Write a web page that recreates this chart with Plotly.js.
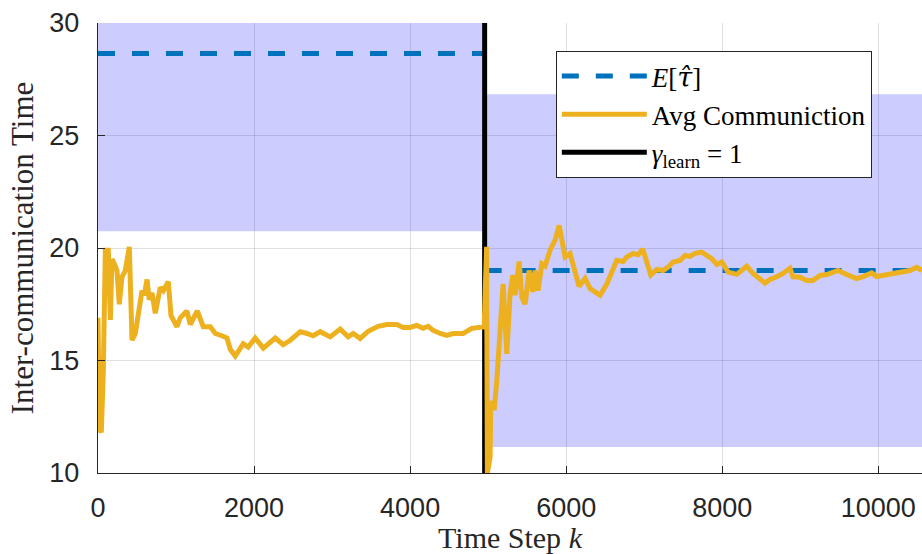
<!DOCTYPE html>
<html>
<head>
<meta charset="utf-8">
<script src="https://cdn.plot.ly/plotly-3.0.1.min.js"></script>
<style>
  html, body { margin: 0; padding: 0; background: #ffffff; }
  #chart { width: 922px; height: 554px; }
</style>
</head>
<body>
<div id="chart"></div>
<script>
// Running average of the inter-communication time over the time steps k
const stepK = [
  0, 17, 42, 68, 94, 132, 158, 179, 209, 243, 273, 307, 350, 401, 436, 478,
  564, 593, 628, 657, 692, 734, 798, 837, 901, 935, 1012, 1054, 1140, 1182,
  1272, 1349, 1439, 1503, 1588, 1653, 1695, 1759, 1861, 1925, 2015, 2118,
  2271, 2374, 2464, 2592, 2677, 2758, 2848, 2976, 3104, 3206, 3271, 3360,
  3463, 3591, 3702, 3830, 3911, 4001, 4086, 4167, 4231, 4295, 4385, 4471,
  4551, 4680, 4791, 4919, 4949,
  4980, 4990, 5025, 5034, 5077, 5111, 5192, 5239, 5282, 5316, 5346, 5397,
  5432, 5474, 5525, 5572, 5602, 5640, 5688, 5730, 5794, 5858, 5910, 5957,
  5986, 6050, 6114, 6165, 6242, 6306, 6370, 6434, 6520, 6648, 6729, 6776,
  6857, 6921, 6981, 7033, 7084, 7161, 7242, 7306, 7370, 7460, 7524, 7588,
  7652, 7737, 7801, 7865, 7930, 7994, 8075, 8186, 8314, 8395, 8548, 8612,
  8698, 8779, 8868, 8907, 8997, 9082, 9163, 9253, 9339, 9484, 9595, 9723,
  9804, 9915, 9979, 10060, 10188, 10316, 10406, 10492, 10560
];
const avgComm = [
  16.9, 12.0, 11.8, 14.5, 19.9, 19.9, 16.8, 19.5, 19.3, 19.0, 17.5, 18.7, 19.0,
  20.05, 15.9, 16.2, 18.1, 17.9, 18.6, 17.7, 18.0, 17.1, 18.25, 18.1, 18.5,
  17.0, 16.5, 16.9, 17.2, 16.6, 17.2, 16.5, 16.5, 16.2, 16.1, 16.0, 15.5,
  15.2, 15.75, 15.6, 16.0, 15.55, 16.0, 15.7, 15.9, 16.28, 16.2, 16.1, 16.28,
  16.05, 16.4, 16.05, 16.2, 15.98, 16.3, 16.52, 16.6, 16.6, 16.47, 16.47,
  16.56, 16.43, 16.52, 16.34, 16.2, 16.12, 16.2, 16.2, 16.43, 16.52, 16.5,
  20.05, 10.0, 10.7, 13.2, 12.8, 14.1, 18.4, 15.3, 18.0, 18.8, 17.9, 19.4,
  17.8, 17.5, 19.0, 18.05, 19.0, 18.1, 19.3, 19.2, 19.9, 20.35, 21.0, 20.2,
  19.6, 19.75, 19.0, 18.3, 18.65, 18.2, 18.05, 17.9, 18.4, 19.45, 19.4, 19.6,
  19.75, 19.7, 19.95, 19.4, 18.8, 19.05, 19.0, 19.15, 19.38, 19.45, 19.67,
  19.63, 19.76, 19.82, 19.67, 19.53, 19.27, 19.38, 18.93, 18.83, 19.19, 18.87,
  18.44, 18.6, 18.72, 18.87, 19.1, 18.72, 18.7, 18.56, 18.56, 18.78, 18.82,
  19.0, 18.82, 18.64, 18.73, 18.89, 18.73, 18.78, 18.87, 18.93, 19.0, 19.14,
  19.0
];

// Two learning phases, separated at the step where gamma_learn = 1
const phaseStart = [0, 4955];
const phaseEnd = [4955, 10600];
const tauMean = [28.65, 19.0];
const tauLow = [20.74, 11.16];
const tauHigh = [36.56, 26.83];
const learnStep = 4955;
const yLimits = [10, 30];

const xTicks = [0, 2000, 4000, 6000, 8000, 10000];
const yTicks = [10, 15, 20, 25, 30];

const BLUE = '#0072BD';
const ORANGE = '#EDB120';
const INK = '#262626';
const SERIF = 'Liberation Serif, Times New Roman, serif';

const traces = [];

// shaded confidence bands, one per phase
phaseStart.forEach((x0, i) => {
  const x1 = phaseEnd[i];
  traces.push({
    type: 'scatter', mode: 'lines',
    x: [x0, x1, x1, x0, x0],
    y: [tauLow[i], tauLow[i], tauHigh[i], tauHigh[i], tauLow[i]],
    fill: 'toself', fillcolor: 'rgba(0,0,255,0.2)',
    line: { width: 0 }, showlegend: false, hoverinfo: 'skip'
  });
});

// expected inter-communication time, piecewise over the phases
const meanX = [], meanY = [];
phaseStart.forEach((x0, i) => {
  if (i > 0) { meanX.push(null); meanY.push(null); }
  meanX.push(x0, phaseEnd[i]);
  meanY.push(tauMean[i], tauMean[i]);
});
traces.push({
  type: 'scatter', mode: 'lines', x: meanX, y: meanY,
  name: '<i>E</i>[<span style="font-family:DejaVu Serif">' +
        '<i>τ&#770;</i></span>]',
  legendrank: 1,
  line: { color: BLUE, width: 5, dash: '17px,17px' }
});

// switch marker
traces.push({
  type: 'scatter', mode: 'lines',
  x: [learnStep, learnStep], y: yLimits,
  name: '<i>γ</i><sub>learn</sub> = 1', legendrank: 3,
  line: { color: '#000000', width: 5 }
});

traces.push({
  type: 'scatter', mode: 'lines', x: stepK, y: avgComm,
  name: 'Avg Communiction', legendrank: 2,
  line: { color: ORANGE, width: 5 }
});

const tickFont = { family: 'Liberation Sans, Arial, sans-serif', size: 27, color: INK };

const layout = {
  width: 922, height: 554,
  margin: { l: 97.7, r: 0, t: 22.7, b: 81.3 },
  paper_bgcolor: '#ffffff', plot_bgcolor: '#ffffff',
  showlegend: true,
  legend: {
    x: 0.5556, y: 0.9378, xanchor: 'left', yanchor: 'top',
    bgcolor: '#ffffff', bordercolor: INK, borderwidth: 1,
    font: { family: SERIF, size: 27, color: '#000000' },
    itemwidth: 85, tracegroupgap: 0
  },
  xaxis: {
    range: [0, 10560], tickvals: xTicks, ticktext: xTicks.map(String),
    ticks: 'inside', ticklen: 7, tickcolor: INK, tickwidth: 1,
    showline: true, linecolor: INK, linewidth: 1.2, mirror: false,
    showgrid: true, gridcolor: 'rgba(0,0,0,0.12)', gridwidth: 1,
    zeroline: false, tickfont: tickFont, ticklabelstandoff: 10,
    title: { text: 'Time Step <i>k</i>', font: { family: SERIF, size: 30, color: INK }, standoff: 8 },
    automargin: false
  },
  yaxis: {
    range: yLimits, tickvals: yTicks, ticktext: yTicks.map(String),
    ticks: 'inside', ticklen: 7, tickcolor: INK, tickwidth: 1,
    showline: true, linecolor: INK, linewidth: 1.2, mirror: false,
    showgrid: true, gridcolor: 'rgba(0,0,0,0.12)', gridwidth: 1,
    zeroline: false, tickfont: tickFont, ticklabelstandoff: 12,
    title: { text: 'Inter-communication Time', font: { family: SERIF, size: 31, color: INK }, standoff: 6 },
    automargin: false
  }
};

Plotly.newPlot('chart', traces, layout, { staticPlot: true, displayModeBar: false });
</script>
</body>
</html>
